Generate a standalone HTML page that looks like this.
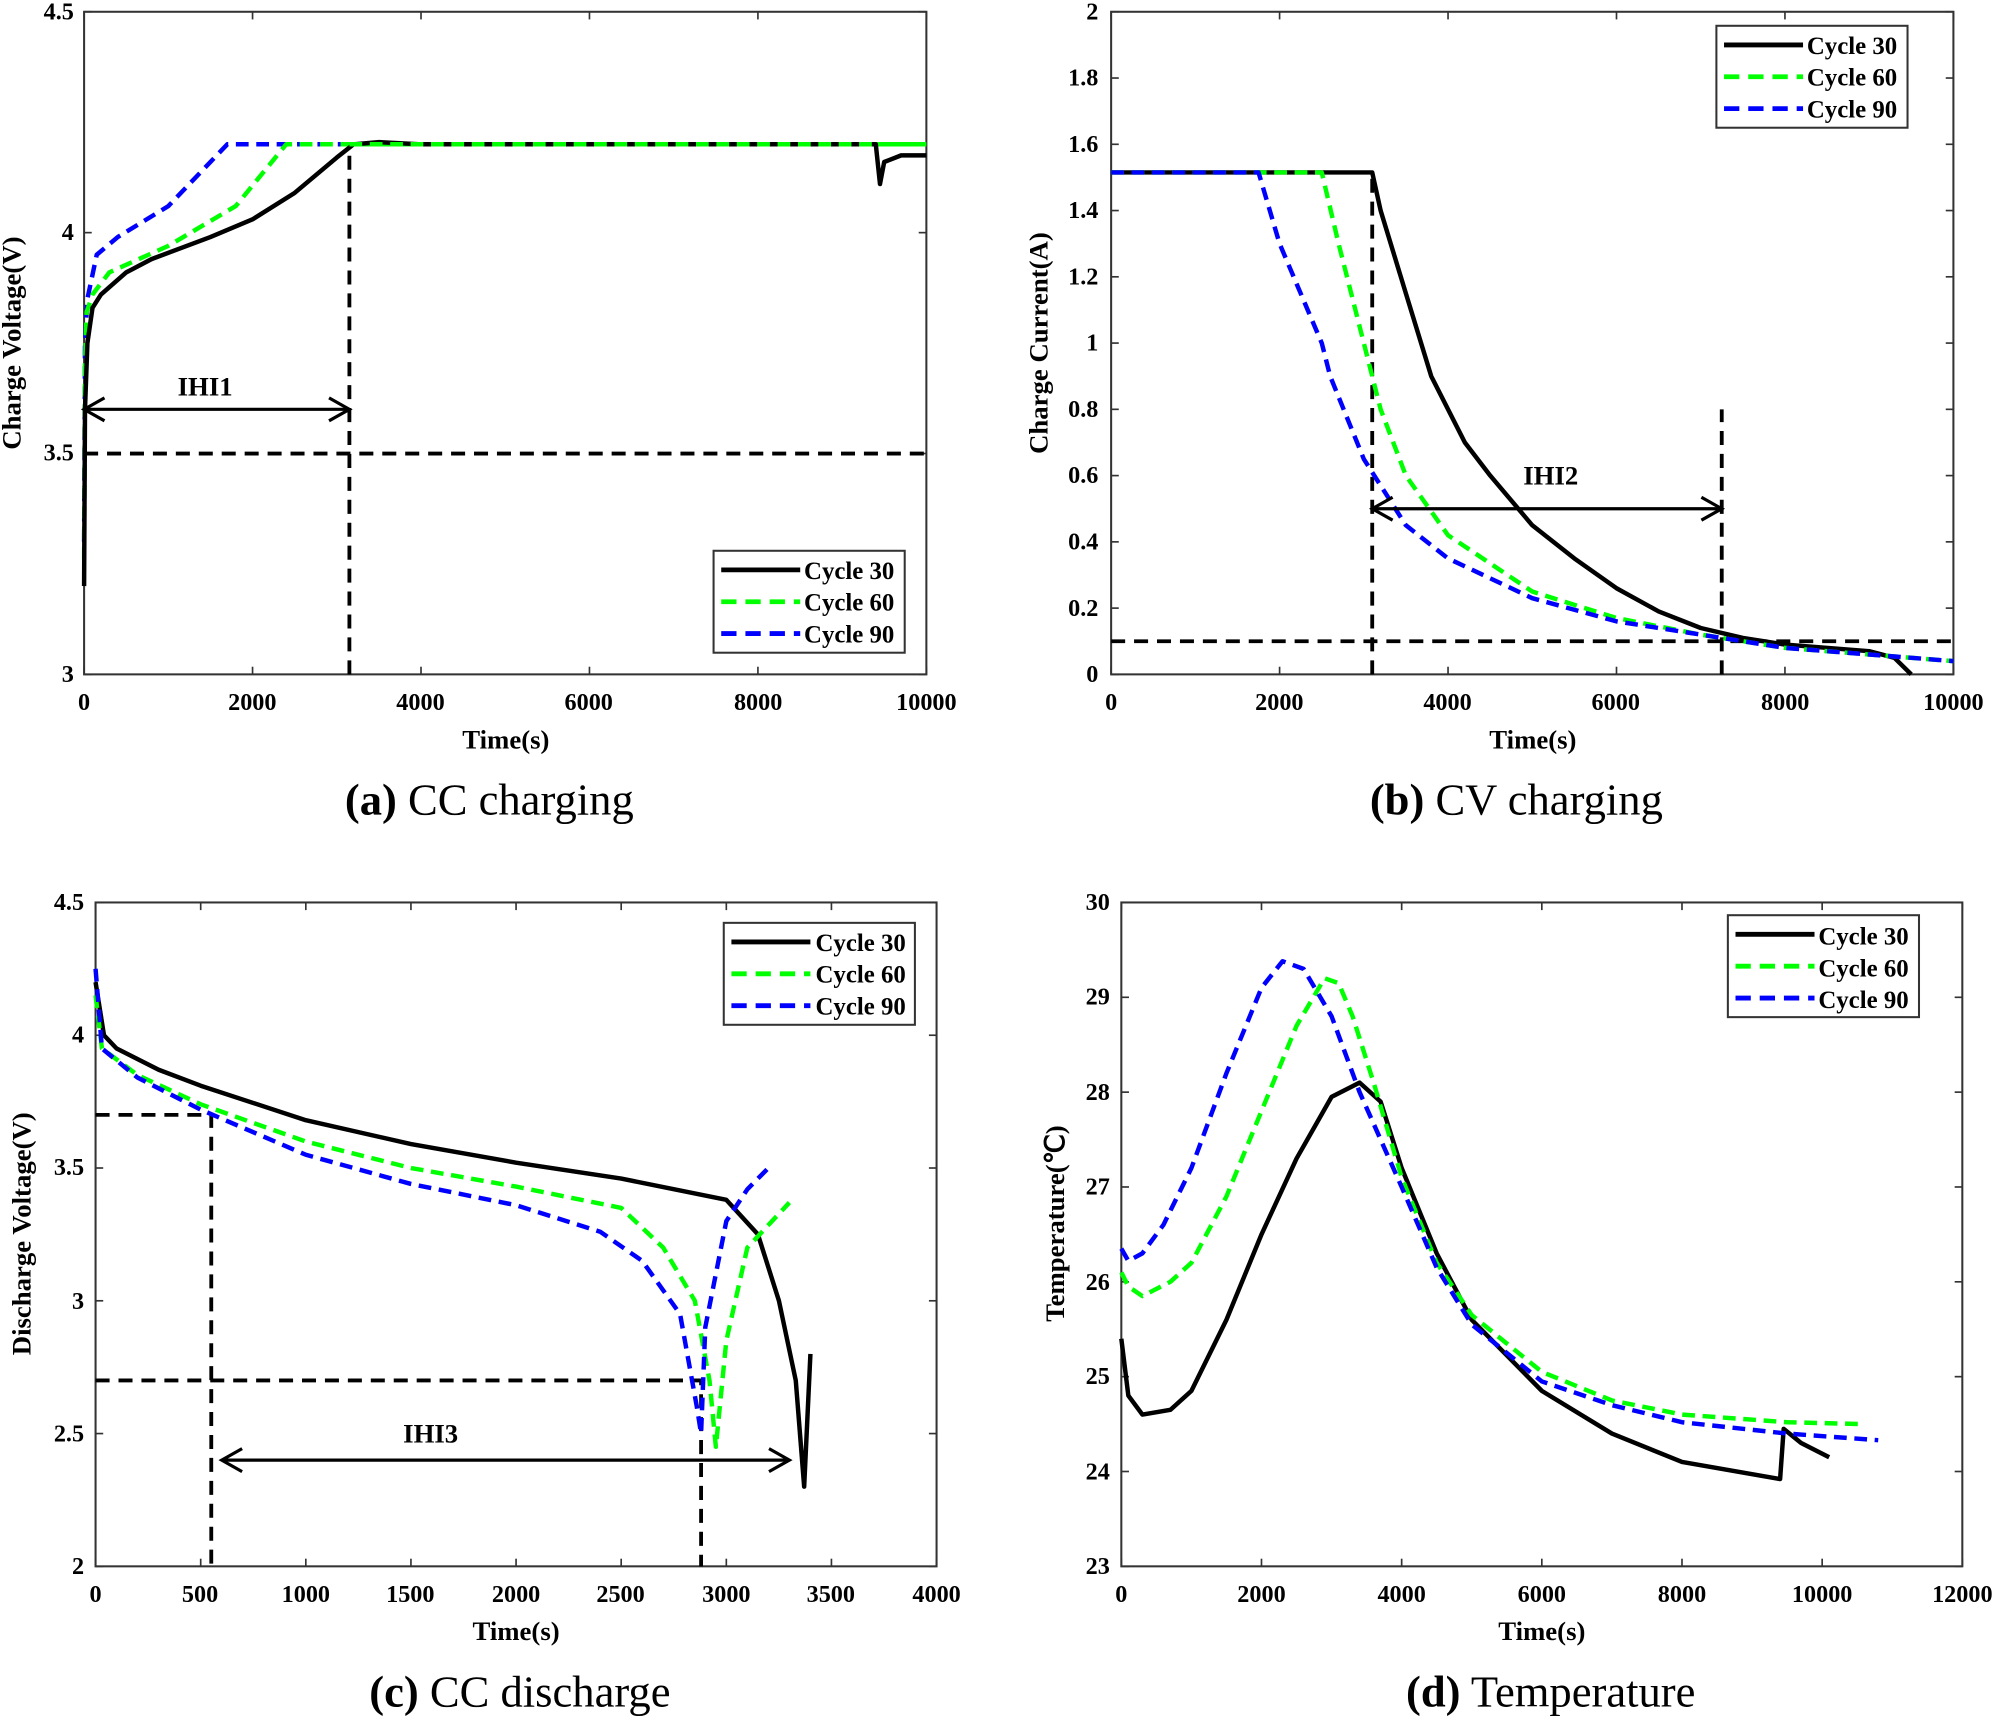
<!DOCTYPE html>
<html><head><meta charset="utf-8"><style>
html,body{margin:0;padding:0;background:#fff}
svg{display:block}
text{font-family:"Liberation Serif",serif;fill:#000}
.t{font-size:19px;font-weight:bold}
.l{font-size:21px;font-weight:bold}
.lg{font-size:19.5px;font-weight:bold}
.cap{font-size:35px}
</style></head><body>
<svg id="s" width="1998" height="1717" viewBox="0 0 1568 1347" xmlns="http://www.w3.org/2000/svg">
<rect width="1568" height="1347" fill="#fff"/>
<g id="plots"></g>
<g class="t" text-anchor="end">
<text x="58" y="15">4.5</text><text x="58" y="188">4</text><text x="58" y="361">3.5</text><text x="58" y="535">3</text>
</g>
<g class="t" text-anchor="middle">
<text x="66" y="557">0</text><text x="198" y="557">2000</text><text x="330" y="557">4000</text><text x="462" y="557">6000</text><text x="595" y="557">8000</text><text x="727" y="557">10000</text>
</g>
<text class="l" x="397" y="587" text-anchor="middle">Time(s)</text>
<text class="l" transform="translate(16,269) rotate(-90)" text-anchor="middle">Charge Voltage(V)</text>
<text class="cap" x="384" y="639" text-anchor="middle"><tspan font-weight="bold">(a)</tspan> CC charging</text>
<text class="l" x="161" y="310" text-anchor="middle">IHI1</text>
<g class="t" text-anchor="end">
<text x="862" y="15">2</text><text x="862" y="67">1.8</text><text x="862" y="119">1.6</text><text x="862" y="171">1.4</text><text x="862" y="223">1.2</text><text x="862" y="275">1</text><text x="862" y="327">0.8</text><text x="862" y="379">0.6</text><text x="862" y="431">0.4</text><text x="862" y="483">0.2</text><text x="862" y="535">0</text>
</g>
<g class="t" text-anchor="middle">
<text x="872" y="557">0</text><text x="1004" y="557">2000</text><text x="1136" y="557">4000</text><text x="1268" y="557">6000</text><text x="1401" y="557">8000</text><text x="1533" y="557">10000</text>
</g>
<text class="l" x="1203" y="587" text-anchor="middle">Time(s)</text>
<text class="l" transform="translate(822,269) rotate(-90)" text-anchor="middle">Charge Current(A)</text>
<text class="cap" x="1190" y="639" text-anchor="middle"><tspan font-weight="bold">(b)</tspan> CV charging</text>
<text class="l" x="1217" y="380" text-anchor="middle">IHI2</text>
<g class="t" text-anchor="end">
<text x="66" y="714">4.5</text><text x="66" y="818">4</text><text x="66" y="922">3.5</text><text x="66" y="1027">3</text><text x="66" y="1131">2.5</text><text x="66" y="1235">2</text>
</g>
<g class="t" text-anchor="middle">
<text x="75" y="1257">0</text><text x="157" y="1257">500</text><text x="240" y="1257">1000</text><text x="322" y="1257">1500</text><text x="405" y="1257">2000</text><text x="487" y="1257">2500</text><text x="570" y="1257">3000</text><text x="652" y="1257">3500</text><text x="735" y="1257">4000</text>
</g>
<text class="l" x="405" y="1287" text-anchor="middle">Time(s)</text>
<text class="l" transform="translate(24,968) rotate(-90)" text-anchor="middle">Discharge Voltage(V)</text>
<text class="cap" x="408" y="1339" text-anchor="middle"><tspan font-weight="bold">(c)</tspan> CC discharge</text>
<text class="l" x="338" y="1132" text-anchor="middle">IHI3</text>
<g class="t" text-anchor="end">
<text x="871" y="714">30</text><text x="871" y="788">29</text><text x="871" y="863">28</text><text x="871" y="937">27</text><text x="871" y="1012">26</text><text x="871" y="1086">25</text><text x="871" y="1161">24</text><text x="871" y="1235">23</text>
</g>
<g class="t" text-anchor="middle">
<text x="880" y="1257">0</text><text x="990" y="1257">2000</text><text x="1100" y="1257">4000</text><text x="1210" y="1257">6000</text><text x="1320" y="1257">8000</text><text x="1430" y="1257">10000</text><text x="1540" y="1257">12000</text>
</g>
<text class="l" x="1210" y="1287" text-anchor="middle">Time(s)</text>
<text class="l" transform="translate(835,960) rotate(-90)" text-anchor="middle">Temperature(℃)</text>
<text class="cap" x="1217" y="1339" text-anchor="middle"><tspan font-weight="bold">(d)</tspan> Temperature</text>
<g id="legs"></g>
<g class="lg">
<text x="631" y="454">Cycle 30</text><text x="631" y="479">Cycle 60</text><text x="631" y="504">Cycle 90</text>
<text x="1418" y="42">Cycle 30</text><text x="1418" y="67">Cycle 60</text><text x="1418" y="92">Cycle 90</text>
<text x="640" y="746">Cycle 30</text><text x="640" y="771">Cycle 60</text><text x="640" y="796">Cycle 90</text>
<text x="1427" y="741">Cycle 30</text><text x="1427" y="766">Cycle 60</text><text x="1427" y="791">Cycle 90</text>
</g>
</svg>
<script>
var NS="http://www.w3.org/2000/svg",G=document.getElementById('plots');
function el(t,a,p){var e=document.createElementNS(NS,t);for(var k in a)e.setAttribute(k,a[k]);(p||G).appendChild(e);return e;}
function panel(P){
 var X=function(v){return P.x0+(v-P.xa)/(P.xb-P.xa)*(P.x1-P.x0)},Y=function(v){return P.y1-(v-P.ya)/(P.yb-P.ya)*(P.y1-P.y0)};
 P.X=X;P.Y=Y;
 el('rect',{x:P.x0,y:P.y0,width:P.x1-P.x0,height:P.y1-P.y0,fill:'none',stroke:'#333','stroke-width':1.6});
 P.xt.forEach(function(v){var x=X(v);el('line',{x1:x,x2:x,y1:P.y1,y2:P.y1-6,stroke:'#333','stroke-width':1.3});el('line',{x1:x,x2:x,y1:P.y0,y2:P.y0+6,stroke:'#333','stroke-width':1.3});});
 P.yt.forEach(function(v){var y=Y(v);el('line',{y1:y,y2:y,x1:P.x0,x2:P.x0+6,stroke:'#333','stroke-width':1.3});el('line',{y1:y,y2:y,x1:P.x1,x2:P.x1-6,stroke:'#333','stroke-width':1.3});});
 return P;
}
function line(P,pts,col,dash,w){var d=pts.map(function(p,i){return (i?'L':'M')+P.X(p[0]).toFixed(1)+','+P.Y(p[1]).toFixed(1)}).join('');
 var a={d:d,fill:'none',stroke:col,'stroke-width':w||3.5,'stroke-linejoin':'round'};if(dash)a['stroke-dasharray']=dash;el('path',a);}
function arrow(x1,x2,y){el('line',{x1:x1,x2:x2,y1:y,y2:y,stroke:'#000','stroke-width':2.5});
 el('path',{d:'M'+(x1+16)+','+(y-9)+'L'+x1+','+y+'L'+(x1+16)+','+(y+9)+'M'+(x2-16)+','+(y-9)+'L'+x2+','+y+'L'+(x2-16)+','+(y+9),fill:'none',stroke:'#000','stroke-width':2.5});}
var BK='#000',GR='#00ff00',BL='#0000ff',DS='10,6',KD='11,7';
function range(a,b,s){var r=[];for(var v=a;v<=b+1e-9;v+=s)r.push(v);return r;}
var A=panel({x0:66,x1:727,y0:9,y1:529,xa:0,xb:10000,ya:3,yb:4.5,xt:range(0,10000,2000),yt:range(3,4.5,0.5)});
line(A,[[0,3.5],[10000,3.5]],BK,KD,3);line(A,[[3150,3],[3150,4.2]],BK,KD,3);
line(A,[[0,3.3],[10,3.75],[40,3.85],[150,3.95],[400,3.99],[1000,4.06],[1700,4.2],[10000,4.2]],BL,DS);
line(A,[[0,3.26],[10,3.7],[30,3.82],[100,3.86],[300,3.91],[1000,3.97],[1800,4.06],[2400,4.2],[10000,4.2]],GR,DS);
line(A,[[0,3.2],[10,3.6],[40,3.75],[100,3.83],[200,3.86],[500,3.91],[800,3.94],[1500,3.99],[2000,4.03],[2500,4.09],[3000,4.17],[3200,4.2],[3500,4.205],[4000,4.2],[9400,4.2],[9450,4.11],[9500,4.16],[9700,4.175],[10000,4.175]],BK,null);
line(A,[[3150,4.2],[10000,4.2]],GR,DS);
arrow(A.X(0),A.X(3150),A.Y(3.6));
var B=panel({x0:872,x1:1533,y0:9,y1:529,xa:0,xb:10000,ya:0,yb:2,xt:range(0,10000,2000),yt:range(0,2,0.2)});
line(B,[[0,0.1],[10000,0.1]],BK,KD,3);line(B,[[3100,0],[3100,1.5]],BK,KD,3);line(B,[[7250,0],[7250,0.8]],BK,KD,3);
line(B,[[0,1.515],[3100,1.515],[3200,1.4],[3500,1.15],[3800,0.9],[4200,0.7],[4500,0.6],[5000,0.45],[5500,0.35],[6000,0.26],[6500,0.19],[7000,0.14],[7500,0.11],[8000,0.09],[9000,0.07],[9300,0.05],[9500,0]],BK,null);
line(B,[[0,1.515],[2500,1.515],[2700,1.3],[3000,1.0],[3200,0.8],[3500,0.6],[4000,0.42],[5000,0.25],[6000,0.17],[7000,0.12],[8000,0.08],[9000,0.06],[10000,0.04]],GR,DS);
line(B,[[0,1.515],[1750,1.515],[2000,1.3],[2500,1.0],[2600,0.9],[3000,0.65],[3500,0.45],[4000,0.35],[5000,0.23],[6000,0.16],[7000,0.12],[8000,0.08],[10000,0.04]],BL,DS);
arrow(B.X(3100),B.X(7250),B.Y(0.5));
var C=panel({x0:75,x1:735,y0:708,y1:1229,xa:0,xb:4000,ya:2,yb:4.5,xt:range(0,4000,500),yt:range(2,4.5,0.5)});
line(C,[[0,3.7],[550,3.7],[550,2]],BK,KD,3);line(C,[[0,2.7],[2880,2.7],[2880,2]],BK,KD,3);
line(C,[[0,4.2],[20,4.1],[40,4.0],[100,3.95],[300,3.87],[500,3.81],[1000,3.68],[1500,3.59],[2000,3.52],[2500,3.46],[3000,3.38],[3150,3.25],[3250,3.0],[3330,2.7],[3370,2.3],[3400,2.8]],BK,null);
line(C,[[0,4.15],[30,3.95],[200,3.85],[500,3.74],[1000,3.6],[1500,3.5],[2000,3.43],[2500,3.35],[2700,3.2],[2850,3.0],[2920,2.7],[2950,2.45],[3000,2.85],[3100,3.2],[3300,3.37]],GR,DS);
line(C,[[0,4.25],[30,3.95],[200,3.84],[500,3.72],[1000,3.55],[1500,3.44],[2000,3.36],[2400,3.26],[2600,3.15],[2780,2.95],[2860,2.6],[2880,2.5],[2900,2.9],[3000,3.3],[3100,3.42],[3200,3.5]],BL,DS);
arrow(C.X(600),C.X(3300),C.Y(2.4));
var D=panel({x0:880,x1:1540,y0:708,y1:1229,xa:0,xb:12000,ya:23,yb:30,xt:range(0,12000,2000),yt:range(23,30,1)});
line(D,[[0,25.4],[100,24.8],[300,24.6],[700,24.65],[1000,24.85],[1500,25.6],[2000,26.5],[2500,27.3],[3000,27.95],[3400,28.1],[3700,27.9],[4000,27.2],[4500,26.3],[5000,25.6],[6000,24.85],[7000,24.4],[8000,24.1],[9400,23.92],[9450,24.45],[9700,24.3],[10100,24.15]],BK,null);
line(D,[[0,26.1],[100,25.95],[300,25.85],[700,26.0],[1000,26.2],[1500,26.9],[2000,27.8],[2500,28.7],[2900,29.2],[3100,29.15],[3300,28.8],[3600,28.1],[4000,27.1],[4500,26.2],[5000,25.65],[6000,25.05],[7000,24.75],[8000,24.6],[9500,24.52],[10600,24.5]],GR,DS);
line(D,[[0,26.35],[100,26.22],[300,26.3],[600,26.6],[1000,27.2],[1500,28.2],[2000,29.1],[2300,29.38],[2600,29.3],[3000,28.8],[3400,28.0],[4000,27.0],[4500,26.15],[5000,25.55],[6000,24.95],[7000,24.7],[8000,24.52],[9500,24.4],[10800,24.33]],BL,DS);
[[560,432],[1347,20],[568,724],[1356,718]].forEach(function(p){
 el('rect',{x:p[0],y:p[1],width:150,height:80,fill:'#fff',stroke:'#333','stroke-width':1.6});
 var c=[BK,GR,BL];for(var i=0;i<3;i++){var y=p[1]+15+25*i;var a={x1:p[0]+6,x2:p[0]+68,y1:y,y2:y,stroke:c[i],'stroke-width':3.8};if(i)a['stroke-dasharray']='12,7';el('line',a);}
});
</script>
</body></html>
